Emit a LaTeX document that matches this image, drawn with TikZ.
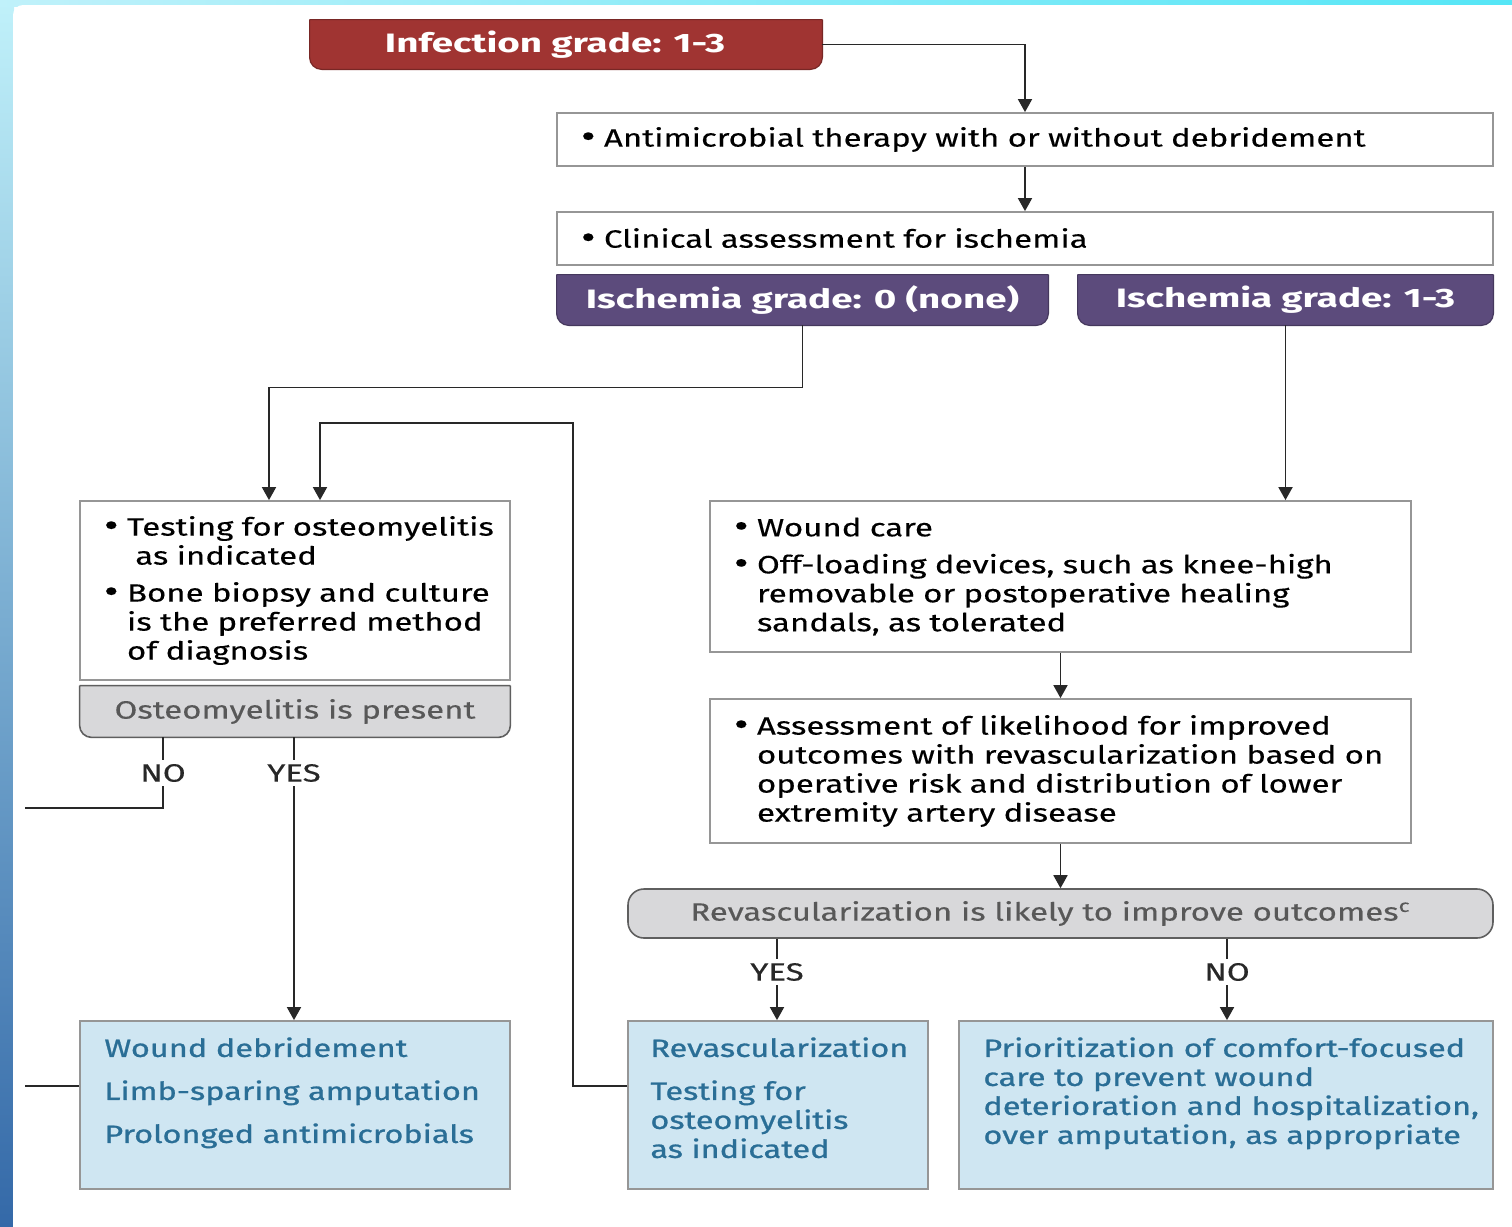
\documentclass[tikz,border=0pt]{standalone}
\usepackage{fontspec}
\setmainfont{Fira Sans}[FakeStretch=1.32, FakeBold=0.3]
\newfontfamily\hdrfamily{Fira Sans}[FakeStretch=1.45]
\newfontfamily\outfamily{Fira Sans}[FakeStretch=1.3, FakeBold=0.9]
\usetikzlibrary{arrows.meta,backgrounds}

\definecolor{infred}{RGB}{160,52,50}
\definecolor{ischpurple}{RGB}{92,75,124}
\definecolor{tabgrey}{RGB}{216,216,218}
\definecolor{tabtext}{RGB}{88,88,88}
\definecolor{tabedge}{RGB}{95,95,95}
\definecolor{outfill}{RGB}{207,230,242}
\definecolor{outtext}{RGB}{42,110,150}
\definecolor{boxline}{RGB}{150,150,150}
\definecolor{wireline}{RGB}{40,40,40}
\definecolor{edgecyan}{RGB}{192,241,250}
\definecolor{edgebright}{RGB}{85,230,246}
\definecolor{edgemid}{RGB}{140,200,230}
\definecolor{edgeblue}{RGB}{52,105,168}

\newcommand{\bodyfont}{\fontsize{12.5}{14.5}\selectfont}
\newcommand{\hdrfont}{\hdrfamily\fontsize{13.3}{15}\selectfont\bfseries}
\newcommand{\bul}{\makebox[11.5pt][l]{\fontsize{17}{14}\selectfont\raisebox{-0.6pt}{\textbullet}}}
\newcommand{\hang}{\hspace*{11.5pt}}

% tab with square top and round bottom corners
\newcommand{\tabshape}[2]{%
  \path[#2, rounded corners=6pt] (#1.north east) -- (#1.south east) -- (#1.south west) -- (#1.north west)
    (#1.north west) -- (#1.north east);}

\tikzset{
  >={Triangle[length=6.5pt,width=7pt]},
  tabnode/.style={inner sep=0pt, text=white, font=\hdrfont},
  stepbox/.style={draw=boxline, line width=0.9pt, fill=white, align=left, inner xsep=12pt, font=\bodyfont},
  decision/.style={draw=tabedge, line width=0.8pt, fill=tabgrey, rounded corners=8pt, text=tabtext, font=\bodyfont},
  outbox/.style={draw=boxline, line width=0.9pt, fill=outfill, minimum height=84pt},
  outlabel/.style={inner sep=0pt, anchor=north west, align=left, text=outtext, font=\outfamily\bodyfont},
  answer/.style={inner sep=2pt, text=wireline, font=\bodyfont},
  wire/.style={draw=wireline, line width=0.9pt}
}

\begin{document}
\begin{tikzpicture}[x=0.5pt,y=-0.5pt]
	\useasboundingbox (0,0) rectangle (1512,1227);
	
	\begin{scope}[on background layer]
		\shade[top color=edgecyan, middle color=edgemid, bottom color=edgeblue] (0,0) rectangle (14,1227);
		\shade[left color=edgecyan, right color=edgebright] (0,0) rectangle (1512,6);
		\fill[white, rounded corners=5pt] (13,5) rectangle (1540,1250);
	\end{scope}
	
	\node[tabnode, minimum width=256pt, minimum height=24.5pt] (infect) at (566,44.5) {Infection grade: 1-3\hspace*{11pt}};
	\node[stepbox, text width=444pt, minimum height=26.5pt] (anti) at (1025,139.5) {\bul Antimicrobial therapy with or without debridement};
	\node[stepbox, text width=444pt, minimum height=26.5pt] (clin) at (1025,238.5) {\bul Clinical assessment for ischemia};
	\node[tabnode, minimum width=245.5pt, minimum height=25pt] (isch0) at (802.5,300) {Ischemia grade: 0 (none)};
	\node[tabnode, minimum width=207.5pt, minimum height=25pt] (isch13) at (1285.5,300) {Ischemia grade: 1-3};
	
	\node[stepbox, text width=191pt, minimum height=89.5pt] (osteotest) at (295,590.5)
		{\bul \mbox{Testing for osteomyelitis}\\ \hang\ as indicated\\[4pt]
		 \bul \mbox{Bone biopsy and culture}\\ \hang \mbox{is the preferred method}\\ \hang of diagnosis};
	\node[tabnode, text=tabtext, font=\bodyfont, minimum width=215pt, minimum height=25.5pt] (osteo) at (295,711.5) {Osteomyelitis is present};
	
	\node[stepbox, text width=326.5pt, minimum height=75.5pt] (woundcare) at (1060.5,576.5)
		{\bul Wound care\\[4pt]
		 \bul Off-loading devices, such as knee-high\\ \hang removable or postoperative healing\\ \hang sandals, as tolerated};
	\node[stepbox, text width=326.5pt, minimum height=72pt] (assess) at (1060.5,771)
		{\bul Assessment of likelihood for improved\\ \hang outcomes with revascularization based on\\
		 \hang operative risk and distribution of lower\\ \hang extremity artery disease};
	\node[decision, minimum width=432.5pt, minimum height=24.5pt] (revlikely) at (1060.5,913.5)
		{Revascularization is likely to improve outcomes\textsuperscript{c}\hspace*{10pt}};
	
	\node[outbox, minimum width=215pt] (debr) at (295,1105) {};
	\node[outbox, minimum width=150pt] (revasc) at (778,1105) {};
	\node[outbox, minimum width=267pt] (prio) at (1226,1105) {};
	\node[outlabel] (debrtext) at (104,1037)
		{Wound debridement\\[7pt] Limb-sparing amputation\\[7pt] Prolonged antimicrobials};
	\node[outlabel] (revasctext) at (650,1037)
		{Revascularization\\[7pt] Testing for\\ osteomyelitis\\ as indicated};
	\node[outlabel] (priotext) at (983,1037)
		{Prioritization of comfort-focused\\ care to prevent wound\\ deterioration and hospitalization,\\ over amputation, as appropriate};
	
	\node[answer] (no1) at (163,773) {NO};
	\node[answer] (yes1) at (294,773) {YES};
	\node[answer] (yes2) at (777,972) {YES};
	\node[answer] (no2) at (1227,972) {NO};
	\coordinate (noend1) at (25,808);
	\coordinate (noend2) at (25,1086);
	
	\begin{scope}[on background layer]
		\tabshape{infect}{fill=infred, draw=infred!75!black, line width=0.6pt}
		\tabshape{isch0}{fill=ischpurple, draw=ischpurple!75!black, line width=0.6pt}
		\tabshape{isch13}{fill=ischpurple, draw=ischpurple!75!black, line width=0.6pt}
		\tabshape{osteo}{fill=tabgrey, draw=tabedge, line width=0.8pt}
	\end{scope}
	
	\draw[wire, ->] (infect.east) -| (anti.north);
	\draw[wire, ->] (anti) -- (clin);
	\draw[wire, ->] (isch0.south) -- ++(0,62) -| ([xshift=-13pt]osteotest.north);
	\draw[wire, ->] (isch13.south) -- (isch13.south |- woundcare.north);
	\draw[wire, ->] (woundcare) -- (assess);
	\draw[wire, ->] (assess) -- (revlikely);
	
	\draw[wire] (no1 |- osteo.south) -- (no1);
	\draw[wire] (no1) |- (noend1);
	\draw[wire] (yes1 |- osteo.south) -- (yes1);
	\draw[wire, ->] (yes1) -- (yes1 |- debr.north);
	\draw[wire] (noend2) -- (noend2 -| debr.west);
	\draw[wire, ->] ([yshift=9.5pt]revasc.west) -| (573,423) -| ([xshift=12.5pt]osteotest.north);
	
	\draw[wire] (yes2 |- revlikely.south) -- (yes2);
	\draw[wire, ->] (yes2) -- (yes2 |- revasc.north);
	\draw[wire] (no2 |- revlikely.south) -- (no2);
	\draw[wire, ->] (no2) -- (no2 |- prio.north);
\end{tikzpicture}
\end{document}
